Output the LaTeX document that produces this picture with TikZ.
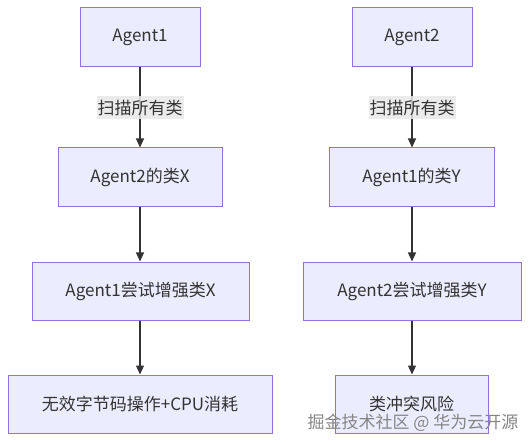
\documentclass[tikz,border=0pt]{standalone}
\usepackage{fontspec}
\setmainfont{Noto Sans CJK SC}
\usetikzlibrary{arrows.meta}
\definecolor{boxfill}{HTML}{ECECFF}
\definecolor{boxline}{HTML}{9370DB}
\definecolor{txt}{HTML}{333333}
\definecolor{lblbg}{HTML}{E8E8E8}
\definecolor{wm}{HTML}{858585}
\tikzset{
  flowbox/.style={draw=boxline, fill=boxfill, line width=1pt, text=txt,
    font=\fontsize{17}{20}\selectfont, inner sep=0pt, anchor=center},
  flowedge/.style={draw=txt, line width=1.1pt, -{Triangle[width=8pt,length=9pt]}},
  edgelabel/.style={fill=lblbg, fill opacity=0.85, text opacity=1, text=txt,
    font=\fontsize{17}{20}\selectfont, inner sep=0pt, minimum width=87pt, minimum height=23pt},
  wmark/.style={font=\fontsize{17}{20}\selectfont, inner sep=0pt}
}
\begin{document}
\begin{tikzpicture}[x=1pt,y=-1pt]
\useasboundingbox[fill=white] (0,0) rectangle (529,443);
% left column
\node[flowbox, minimum width=120pt, minimum height=59pt] (a1) at (140,37.5) {Agent1};
\node[flowbox, minimum width=164pt, minimum height=59pt] (cx) at (140,177.5) {Agent2的类X};
\node[flowbox, minimum width=217pt, minimum height=58pt] (ex) at (140.5,291) {Agent1尝试增强类X};
\node[flowbox, minimum width=264pt, minimum height=58pt] (nx) at (140,404) {无效字节码操作+CPU消耗};
% right column
\node[flowbox, minimum width=120pt, minimum height=59pt] (a2) at (412,37.5) {Agent2};
\node[flowbox, minimum width=165pt, minimum height=59pt] (cy) at (411.5,177.5) {Agent1的类Y};
\node[flowbox, minimum width=218pt, minimum height=58pt] (ey) at (412,291) {Agent2尝试增强类Y};
\node[flowbox, minimum width=153pt, minimum height=58pt] (ny) at (411.5,404) {类冲突风险};
% edges
\draw[flowedge] (a1.south) -- (a1.south |- cx.north);
\draw[flowedge] (cx.south) -- (cx.south |- ex.north);
\draw[flowedge] (ex.south -| cx.south) -- (cx.south |- nx.north);
\draw[flowedge] (a2.south) -- (a2.south |- cy.north);
\draw[flowedge] (cy.south -| a2.south) -- (a2.south |- ey.north);
\draw[flowedge] (ey.south -| a2.south) -- (a2.south |- ny.north);
% edge labels
\node[edgelabel] (l1) at (140,108) {扫描所有类};
\node[edgelabel] (l2) at (412,108) {扫描所有类};
% watermark
\node[wmark, text=wm] (wm) at (413,423) {掘金技术社区 @ 华为云开源};
\end{tikzpicture}
\end{document}
